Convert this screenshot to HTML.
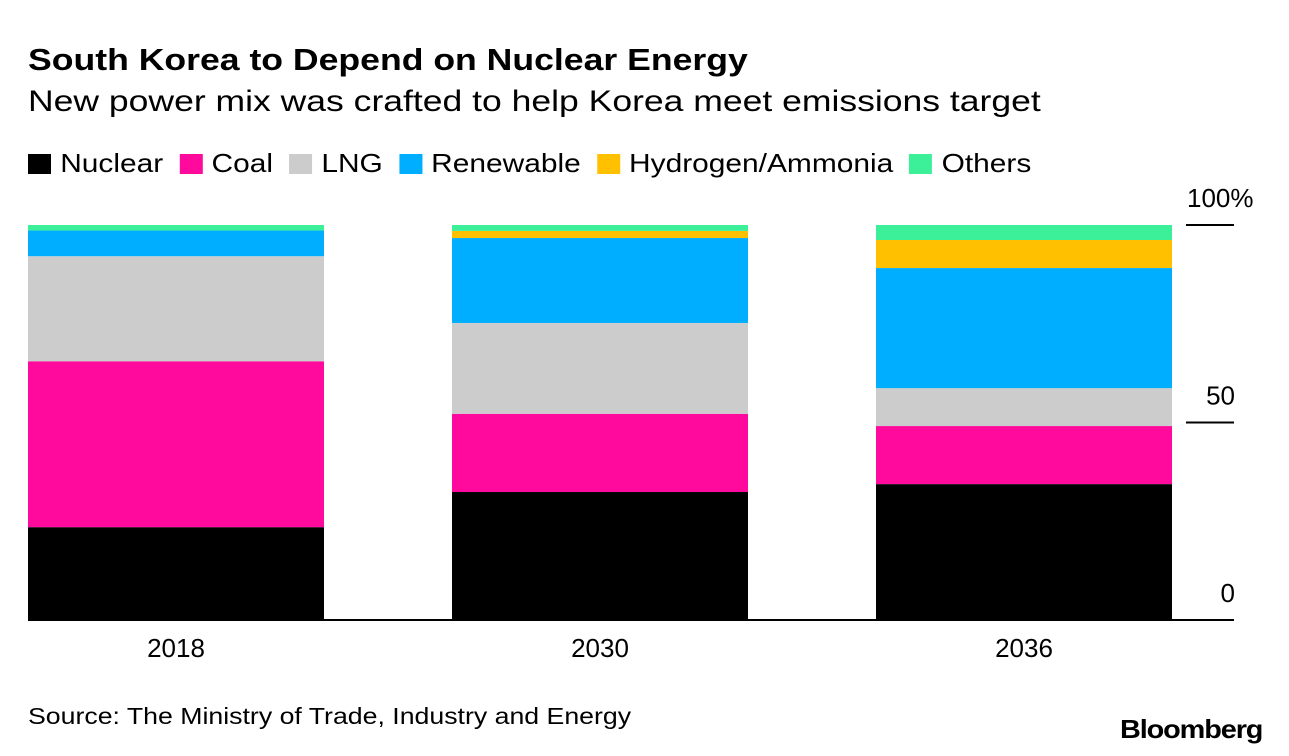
<!DOCTYPE html>
<html><head><meta charset="utf-8"><style>
body{margin:0;background:#fff;font-family:"Liberation Sans",sans-serif;}
#wrap{position:relative;width:1289px;height:756px;overflow:hidden;}
.t{position:absolute;white-space:nowrap;color:#000;transform-origin:0 0;}
</style></head><body>
<div id="wrap">
<div class="t" style="left:28px;top:42px;font-size:31px;font-weight:bold;transform:scaleX(1.148);">South Korea to Depend on Nuclear Energy</div>
<div class="t" style="left:28px;top:85px;font-size:30px;transform:scaleX(1.184);">New power mix was crafted to help Korea meet emissions target</div>
<div id="legend" class="t" style="left:28px;top:148px;font-size:26px;display:flex;transform:scaleX(1.15);"></div>
<svg id="svg" width="1289" height="756" style="position:absolute;left:0;top:0;"></svg>
<div class="t" style="left:28px;top:703px;font-size:23px;transform:scaleX(1.16);">Source: The Ministry of Trade, Industry and Energy</div>
<div class="t" style="left:1120px;top:714px;font-size:26px;font-weight:bold;letter-spacing:-1px;transform:scaleX(1.11);">Bloomberg</div>
</div>
<script>
const categories=["2018","2030","2036"];
const seriesNames=["Nuclear","Coal","LNG","Renewable","Hydrogen/Ammonia","Others"];
const colors=["#000000","#ff0a9c","#cccccc","#00aeff","#ffc000","#3cf09a"];
const nuclear=[23.5,32.4,34.4];
const coal=[42.0,19.8,14.7];
const lng=[26.6,23.0,9.6];
const renewable=[6.5,21.5,30.4];
const hydrogen=[0,1.8,7.1];
const others=[1.4,1.5,3.8];
const ticks=[0,50,100];
const tickLabels=["0","50","100%"];
const series=[nuclear,coal,lng,renewable,hydrogen,others];
const ns="http://www.w3.org/2000/svg";
const svg=document.getElementById('svg');
const y0=620,yTop=225;
const y=v=>y0-(v/100)*(y0-yTop);
const barW=296,x0=28,step=424;
const x=i=>x0+i*step;
function mk(tag,a){const e=document.createElementNS(ns,tag);for(const k in a)e.setAttribute(k,a[k]);svg.appendChild(e);return e;}
categories.forEach((c,i)=>{
  let cum=0;
  series.forEach((s,j)=>{
    const v=s[i];if(v<=0)return;
    const r=mk('rect',{x:x(i),y:y(cum+v),width:barW,height:y(cum)-y(cum+v),fill:colors[j]});
    
    
    cum+=v;
  });
  const t=mk('text',{x:x(i)+barW/2,y:657,'font-size':26,'text-anchor':'middle','font-family':'Liberation Sans'});
  t.textContent=c;
  
  
});
const ax=mk('line',{x1:28,x2:1234,y1:y0,y2:y0,stroke:'#000','stroke-width':2});


ticks.forEach((v,i)=>{
  if(v>0){const l=mk('line',{x1:1186,x2:1234,y1:y(v),y2:y(v),stroke:'#000','stroke-width':2});
  
  }
  const t=mk('text',{x:v===100?1187:1235,y:y(v)-18,'font-size':26,'text-anchor':v===100?'start':'end','font-family':'Liberation Sans'});
  t.textContent=tickLabels[i];
  
  
});
const lg=document.getElementById('legend');
seriesNames.forEach((n,j)=>{
  const d=document.createElement('div');
  
  
  d.style.cssText='display:flex;align-items:center;margin-right:14px;';
  d.innerHTML='<span style="display:inline-block;width:20px;height:20px;background:'+colors[j]+';margin-right:8px;"></span>'+n;
  lg.appendChild(d);
});
</script>
</body></html>
